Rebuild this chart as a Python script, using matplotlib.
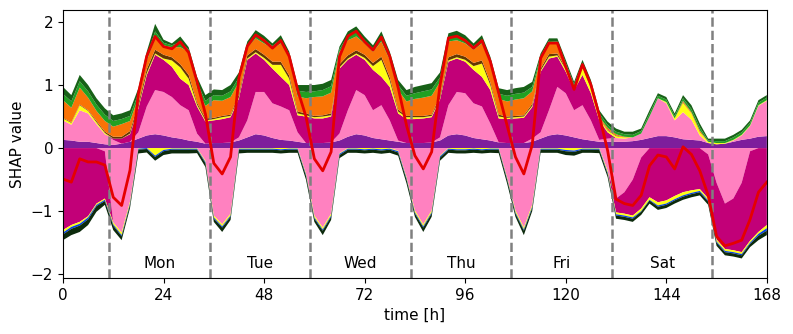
import numpy as np
import matplotlib
matplotlib.use("Agg")
import matplotlib.pyplot as plt

# time axis, every 2 hours over one week
hours = np.arange(0, 169, 2)

# --- positive contributions (stacked up from zero) ---
purple = [.13, .12, .10, .10, .08, .06, .05, .07, .10, .15, .20, .22,
          .20, .17, .15, .12, .10, .07, .08, .08, .09, .12, .17, .22,
          .20, .16, .13, .12, .10, .08, .08, .08, .09, .12, .18, .22,
          .20, .16, .14, .12, .10, .08, .08, .08, .09, .12, .20, .22,
          .20, .16, .14, .12, .09, .08, .08, .08, .10, .15, .20, .22,
          .20, .17, .14, .12, .10, .10, .10, .10, .11, .13, .16, .19,
          .19, .17, .14, .13, .12, .08, .06, .07, .10, .13, .15, .18,
          .19]
pink = [.31, .25, .50, .45, .30, .16, .08, 0, 0, .10, .46, .70,
        .69, .64, .53, .48, .13, 0, 0, 0, 0, .05, .27, .67,
        .69, .55, .53, .48, .15, 0, 0, 0, 0, .11, .42, .70,
        .64, .44, .54, .32, .02, 0, 0, 0, 0, .05, .48, .67,
        .67, .55, .52, .27, 0, 0, 0, 0, .05, .10, .40, .75,
        .67, .43, .54, .32, .03, .05, .06, .05, .06, .10, .34, .60,
        .52, .27, .43, .32, .08, 0, 0, 0, .02, .07, .20, .49,
        .56]
magenta = [0, 0, 0, 0, 0, 0, .02, .08, .12, .38, .50, .56,
           .51, .48, .42, .40, .43, .35, .36, .38, .40, .62, .96, .61,
           .51, .55, .47, .40, .27, .42, .39, .39, .41, 1.03, .80, .56,
           .56, .64, .45, .53, .43, .38, .38, .39, .40, .60, .69, .53,
           .50, .53, .47, .53, .38, .38, .39, .40, .50, .96, .82, .48,
           .34, .32, .48, .43, .31, .10, 0, 0, 0, 0, 0, 0,
           0, 0, 0, 0, 0, 0, 0, 0, 0, 0, 0, 0,
           0]
yellow = [.03, .03, .08, .04, .03, .02, 0, 0, .01, .02, .03, .02,
          .02, .10, .18, .10, .03, .02, .02, .03, .02, .02, .02, .02,
          .03, .06, .19, .10, .03, .02, .02, .03, .02, .02, .02, .02,
          .03, .06, .27, .10, .03, .03, .03, .02, .02, .02, .02, .02,
          .03, .06, .21, .08, .03, .02, .02, .02, .02, .02, .03, .02,
          .04, .04, .12, .08, .03, .03, .03, .02, 0, 0, 0, 0,
          .02, .03, .15, .10, .05, .02, .02, .01, .01, .01, .01, .01,
          .01]
brown = [.01, .01, .01, .01, .02, .02, .03, .03, .04, .05, .06, .06,
         .06, .05, .05, .06, .03, .03, .02, .02, .02, .04, .05, .05,
         .05, .05, .05, .05, .03, .03, .02, .02, .03, .05, .05, .05,
         .05, .05, .05, .05, .03, .02, .02, .02, .02, .04, .05, .05,
         .05, .05, .05, .04, .03, .02, .02, .02, .03, .03, .04, .03,
         .02, .01, .01, .02, .01, .01, .01, 0, 0, 0, 0, 0,
         0, 0, .01, 0, 0, 0, 0, 0, 0, 0, 0, 0,
         0]
orange = [.28, .23, .27, .20, .16, .17, .16, .20, .16, .10, .14, .18,
          .15, .16, .27, .37, .23, .20, .28, .24, .28, .20, .13, .17,
          .18, .21, .29, .30, .24, .24, .30, .30, .33, .20, .24, .22,
          .18, .18, .24, .28, .31, .23, .27, .29, .30, .22, .25, .22,
          .21, .21, .27, .33, .25, .24, .26, .27, .20, .16, .17, .15,
          .03, 0, .02, .02, .02, .03, .02, .01, 0, 0, 0, 0,
          0, 0, .02, .02, .03, 0, 0, 0, 0, 0, 0, 0,
          0]
green = [.10, .10, .10, .10, .10, .10, .09, .08, .08, .07, .07, .11,
         .04, .03, .08, .03, .09, .08, .08, .08, .09, .07, .04, .06,
         .06, .04, .06, .04, .09, .10, .09, .10, .10, .04, .07, .08,
         .05, .05, .08, .06, .08, .09, .09, .10, .10, .07, .06, .07,
         .06, .05, .06, .04, .08, .09, .09, .09, .07, .04, .04, .04,
         .05, .04, .04, .04, .05, .05, .04, .04, .04, .04, .05, .04,
         .04, .04, .04, .05, .05, .02, .03, .03, .04, .04, .04, .04,
         .04]
dark_green = [.11, .10, .10, .10, .10, .10, .09, .09, .09, .08, .07, .12,
              .05, .03, .09, .04, .09, .09, .09, .09, .10, .08, .05, .07,
              .06, .04, .07, .04, .09, .11, .10, .10, .10, .04, .07, .08,
              .06, .05, .08, .07, .08, .09, .10, .10, .10, .08, .07, .08,
              .07, .05, .07, .04, .09, .09, .09, .09, .08, .04, .04, .05,
              .05, .04, .05, .05, .05, .05, .05, .04, .05, .04, .05, .04,
              .04, .04, .05, .06, .06, .03, .04, .04, .04, .04, .04, .04,
              .04]

# --- negative contributions (stacked down from zero), given as magnitudes ---
neg_pink = [0, 0, 0, 0, 0, .05, 1.18, 1.34, .85, 0, 0, 0,
            0, 0, 0, 0, 0, .20, 1.07, 1.21, 1.04, 0, 0, 0,
            0, 0, 0, 0, 0, .40, 1.07, 1.26, 1.04, .08, 0, 0,
            0, 0, 0, 0, .04, .46, .99, 1.21, .99, .12, 0, 0,
            0, 0, 0, 0, 0, .46, .99, 1.26, .90, 0, 0, 0,
            0, 0, 0, 0, 0, .36, .80, .70, .50, .15, 0, 0,
            0, 0, 0, 0, 0, .10, .55, .88, .80, .55, .05, 0,
            0]
neg_magenta = [1.30, 1.22, 1.17, 1.08, .88, .75, 0, 0, 0, 0, 0, 0,
               0, 0, 0, 0, 0, 0, 0, 0, 0, 0, 0, 0,
               0, 0, 0, 0, 0, 0, 0, 0, 0, 0, 0, 0,
               0, 0, 0, 0, 0, 0, 0, 0, 0, 0, 0, 0,
               0, 0, 0, 0, 0, 0, 0, 0, 0, 0, 0, 0,
               0, 0, 0, 0, 0, 0, .22, .34, .57, .81, .78, .86,
               .83, .76, .70, .67, .65, .70, .90, .72, .82, 1.10, 1.42, 1.33,
               1.22]
neg_yellow = [.04, .03, .03, .02, .02, .02, .03, .04, .03, .01, 0, .12,
              .03, .01, .01, .01, .01, .02, .03, .03, .03, .01, .01, .01,
              .01, .01, .02, .01, .01, .02, .03, .03, .03, .01, .01, .01,
              .02, .01, .02, .01, .01, .02, .03, .03, .03, .01, .01, .02,
              .02, .01, .02, .01, .01, .02, .03, .03, .03, .01, .01, .01,
              .03, .04, .01, .01, .01, .03, .03, .03, .03, .04, .04, .05,
              .05, .05, .05, .04, .03, .03, .03, .03, .03, .03, .03, .03,
              .05]
neg_blue = [.03, .03, .03, .03, .02, .02, .02, .02, .02, .015, .015, .02,
            .02, .015, .015, .015, .015, .02, .02, .02, .02, .015, .015, .015,
            .015, .015, .015, .015, .015, .02, .02, .02, .02, .02, .015, .015,
            .015, .015, .02, .015, .02, .02, .02, .02, .02, .02, .015, .015,
            .015, .015, .015, .015, .015, .02, .02, .02, .02, .015, .015, .015,
            .02, .02, .015, .015, .015, .02, .02, .02, .02, .01, .01, .02,
            .02, .02, .02, .02, .02, .02, .02, .02, .02, .02, .02, .03,
            .04]
neg_dark = [.09, .10, .10, .09, .09, .06, .07, .06, .05, .06, .055, .06,
            .06, .06, .06, .06, .055, .06, .05, .07, .05, .06, .05, .05,
            .05, .05, .05, .05, .05, .06, .05, .07, .05, .05, .05, .05,
            .05, .05, .05, .05, .05, .06, .05, .07, .05, .05, .05, .05,
            .05, .05, .05, .05, .055, .06, .05, .07, .05, .05, .05, .05,
            .06, .06, .05, .05, .055, .05, .05, .05, .05, .05, .05, .05,
            .05, .05, .05, .05, .05, .05, .05, .05, .05, .05, .05, .07,
            .07]

day_names = ["Mon", "Tue", "Wed", "Thu", "Fri", "Sat"]
day_starts = [11, 35, 59, 83, 107, 131, 155]

pos_layers = [purple, pink, magenta, yellow, brown, orange, green, dark_green]
pos_colors = ['#7e1e9c', '#ff81c0', '#c20078', '#ffff14', '#653700',
              '#f97306', '#22a022', '#176117']
neg_layers = [neg_pink, neg_magenta, neg_yellow, neg_blue, neg_dark]
neg_colors = ['#ff81c0', '#c20078', '#ffff14', '#0343df', '#0c2a0c']

pos = np.array(pos_layers)
neg = -np.array(neg_layers)
total = pos.sum(axis=0) + neg.sum(axis=0)

plt.rcParams['font.size'] = 11

fig = plt.figure(figsize=(7.93, 3.34), dpi=100)
ax = fig.add_axes([0.0794, 0.1677, 0.8876, 0.8024])

ax.stackplot(hours, pos, colors=pos_colors, lw=0)
ax.stackplot(hours, neg, colors=neg_colors, lw=0)

for d in day_starts:
    ax.axvline(d, color='gray', ls='--', lw=1.8)

ax.plot(hours, total, color='#e50000', lw=2)

for i, name in enumerate(day_names):
    ax.text(day_starts[i] + 12, -1.83, name, ha='center', va='center', fontsize=11)

ax.set_xlim(0, 168)
ax.set_ylim(-2.06, 2.19)
ax.set_xticks(np.arange(0, 169, 24))
ax.set_yticks([-2, -1, 0, 1, 2])
ax.set_xlabel("time [h]")
ax.set_ylabel("SHAP value")

fig.savefig("out.png", dpi=100)
